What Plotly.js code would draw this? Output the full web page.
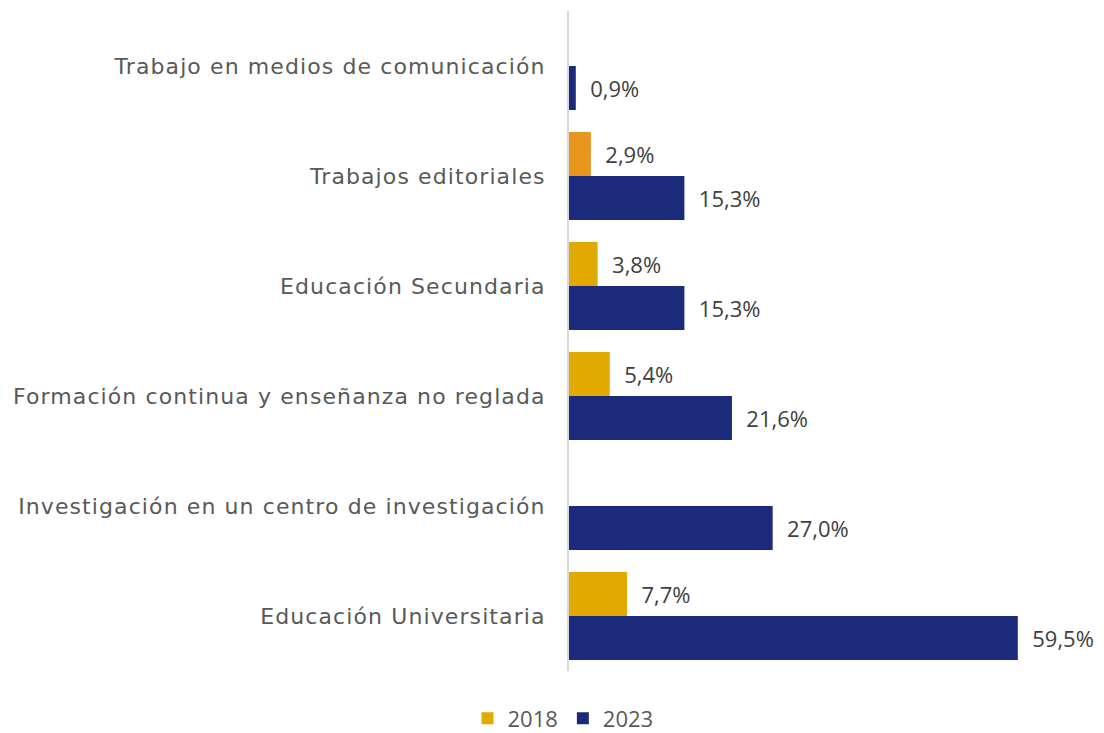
<!DOCTYPE html>
<html>
<head>
<meta charset="utf-8">
<script src="https://cdn.plot.ly/plotly-3.0.1.min.js"></script>
<style>
html,body{margin:0;padding:0;background:#fff;}
#chart{width:1104px;height:733px;}
#chart .ytick text{letter-spacing:1.1px;}
</style>
</head>
<body>
<div id="chart"></div>
<script>
var categories = [
  "Trabajo en medios de comunicación",
  "Trabajos editoriales",
  "Educación Secundaria",
  "Formación continua y enseñanza no reglada",
  "Investigación en un centro de investigación",
  "Educación Universitaria"
];
var values2018 = [null, 2.9, 3.8, 5.4, null, 7.7];
var values2023 = [0.9, 15.3, 15.3, 21.6, 27.0, 59.5];
var seriesNames = ["2018", "2023"];

var gold = "#E2A900";
var orange = "#E8961E";
var navy = "#1B2A7B";

function fmt(v) {
  if (v === null) return "";
  return "\u00A0\u00A0" + v.toFixed(1).replace(".", ",") + "%";
}

var colors2018 = categories.map(function (c) {
  return c === "Trabajos editoriales" ? orange : gold;
});

var labelFont = { family: "Open Sans, sans-serif", color: "#404040", size: 22 };

var t1 = {
  type: "bar", orientation: "h", name: seriesNames[0],
  y: categories, x: values2018,
  marker: { color: colors2018 },
  text: values2018.map(fmt), textposition: "outside",
  textfont: labelFont,
  cliponaxis: false, hoverinfo: "none"
};
var t2 = {
  type: "bar", orientation: "h", name: seriesNames[1],
  y: categories, x: values2023,
  marker: { color: navy },
  text: values2023.map(fmt), textposition: "outside",
  textfont: labelFont,
  cliponaxis: false, hoverinfo: "none"
};

var layout = {
  width: 1104, height: 733,
  margin: { l: 569, r: 7, t: 11, b: 62, autoexpand: false },
  paper_bgcolor: "#fff", plot_bgcolor: "#fff",
  font: { family: "Open Sans, sans-serif", color: "#595959", size: 22 },
  barmode: "group", bargap: 0.2, bargroupgap: 0,
  showlegend: true,
  legend: {
    orientation: "h", xref: "container", yref: "container",
    x: 0.51, xanchor: "center", y: 0.02, yanchor: "middle",
    font: { family: "Open Sans, sans-serif", size: 22, color: "#595959" },
    traceorder: "normal", itemwidth: 30
  },
  xaxis: { range: [0, 70], visible: false, fixedrange: true },
  yaxis: {
    type: "category", autorange: "reversed",
    showline: true, linecolor: "#D9D9D9", linewidth: 2,
    showgrid: false, zeroline: false, ticks: "",
    ticklabelstandoff: 17,
    tickfont: { family: "DejaVu Sans, sans-serif", size: 22, color: "#595959" }
  }
};

Plotly.newPlot("chart", [t1, t2], layout, { displayModeBar: false, staticPlot: true });
</script>
</body>
</html>
